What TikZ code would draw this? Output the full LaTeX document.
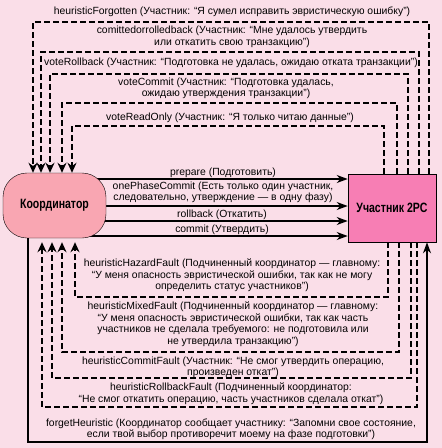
\documentclass[tikz,border=0pt]{standalone}
\usepackage{fontspec}
\setmainfont{Liberation Sans}
\newfontfamily\narrowsans{Liberation Sans}[FakeStretch=0.78]
\usetikzlibrary{arrows.meta}
\definecolor{bgpink}{RGB}{250,222,232}
\definecolor{coordpink}{RGB}{249,166,178}
\definecolor{partpink}{RGB}{247,126,180}
\pgfdeclarelayer{back}
\pgfsetlayers{back,main}

\begin{document}
\begin{tikzpicture}[x=1pt, y=-1pt,
	msg/.style={ font=\fontsize{10.4}{11.5}\selectfont, align=center, inner sep=0pt },
	coordbox/.style={ draw, thin, fill=coordpink, rounded corners=24pt, minimum width=103pt, minimum height=65pt, inner sep=0pt, font=\narrowsans\fontsize{13.5}{14}\selectfont\bfseries },
	partbox/.style={ draw, semithick, fill=partpink, minimum width=88pt, minimum height=68pt, inner sep=0pt, font=\narrowsans\fontsize{13.5}{14}\selectfont\bfseries },
	dashloop/.style={ line width=1.6pt, dash pattern=on 6pt off 3pt, -{Stealth[length=10pt,width=9pt]} },
	flow/.style={ line width=1.6pt, -{Stealth[length=11pt,width=8pt]} }
]
\useasboundingbox (0,0) rectangle (442,448);

\node at (54.5,205.5) (coord) [coordbox] {Координатор};
\node at (392,208) (part) [partbox] {Участник 2PC};

\begin{pgfonlayer}{back}
\fill[bgpink] (0,0) rectangle (442,448);
\foreach \y in {179,206,221,236}
  \draw[flow] (coord.center |- 0,\y) -- (part.west |- 0,\y);
\end{pgfonlayer}

\foreach \xl/\xr/\yt in {33/429/22, 41/419/52, 50/408/74, 62/397/103, 72/384/126}
  \draw[dashloop] (part.north -| \xr,0) |- (\xl,\yt) -- (coord.north -| \xl,0);
\foreach \xl/\xr/\yb in {75/388/297, 62/399/352, 52/411/378, 42/417/407}
  \draw[dashloop, shorten >=4pt] (part.south -| \xr,0) |- (\xl,\yb) -- (coord.south -| \xl,0);
\draw[flow] (coord.south -| 28,0) |- (427,442) -- (part.south -| 427,0);

\node at (232,12) (forgotten) [msg] {heuristicForgotten (Участник: “Я сумел исправить эвристическую ошибку”)};
\node at (232,37) (done) [msg] {comittedorrolledback (Участник: “Мне удалось утвердить\\или откатить свою транзакцию”)};
\node at (231,62.5) (voterb) [msg] {voteRollback (Участник: “Подготовка не удалась, ожидаю отката транзакции”)};
\node at (226,88.5) (votecm) [msg] {voteCommit (Участник: “Подготовка удалась,\\ожидаю утверждения транзакции”)};
\node at (230,117.5) (votero) [msg] {voteReadOnly (Участник: “Я только читаю данные”)};
\node at (223,172.5) (prepare) [msg] {prepare (Подготовить)};
\node at (223,192.5) (onephase) [msg] {onePhaseCommit (Есть только один участник,\\следовательно, утверждение — в одну фазу)};
\node at (222,214.5) (rollback) [msg] {rollback (Откатить)};
\node at (222,229.5) (commit) [msg] {commit (Утвердить)};
\node at (232,275.5) (hazard) [msg] {heuristicHazardFault (Подчиненный координатор — главному:\\“У меня опасность эвристической ошибки, так как не могу\\определить статус участников”)};
\node at (233,324) (mixed) [msg] {heuristicMixedFault (Подчиненный координатор — главному:\\“У меня опасность эвристической ошибки, так как часть\\участников не сделала требуемого: не подготовила или\\не утвердила транзакцию”)};
\node at (233,367.5) (cmfault) [msg] {heuristicCommitFault (Участник: “Не смог утвердить операцию,\\произведен откат”)};
\node at (231,393.5) (rbfault) [msg] {heuristicRollbackFault (Подчиненный координатор:\\“Не смог откатить операцию, часть участников сделала откат”)};
\node at (231,429.5) (forget) [msg] {forgetHeuristic (Координатор сообщает участнику: “Запомни свое состояние,\\если твой выбор противоречит моему на фазе подготовки”)};

\end{tikzpicture}
\end{document}
